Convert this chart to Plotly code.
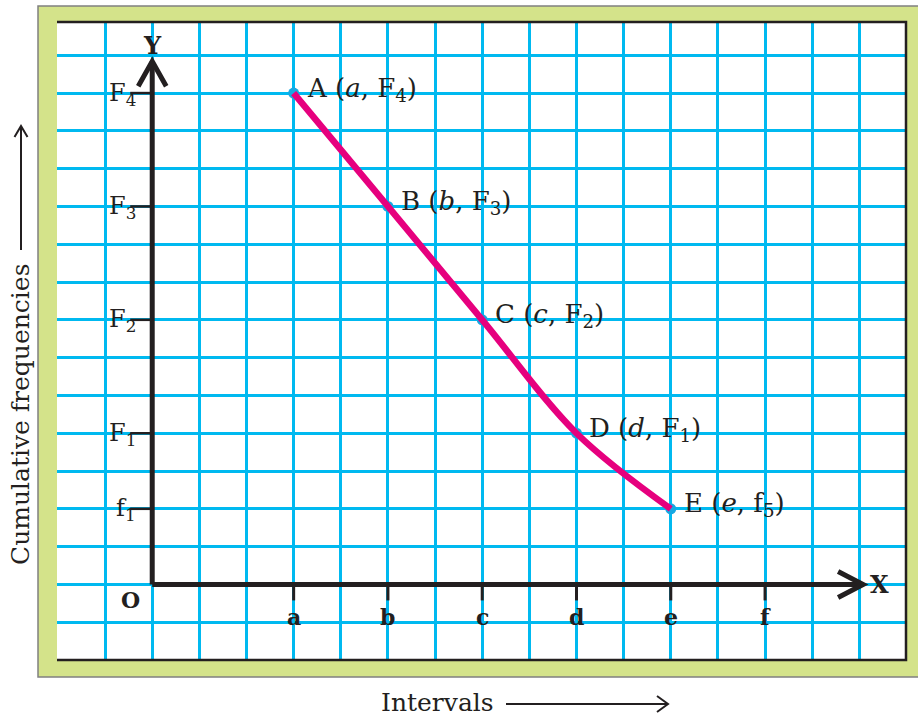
import plotly.graph_objects as go

# ---- data ----
x_tick_labels = ['a', 'b', 'c', 'd', 'e', 'f']
x_tick_pos = [3, 5, 7, 9, 11, 13]
y_tick_labels = ['F<sub>4</sub>', 'F<sub>3</sub>', 'F<sub>2</sub>', 'F<sub>1</sub>', 'f<sub>1</sub>']
y_tick_pos = [13, 10, 7, 4, 2]
point_names = ['A', 'B', 'C', 'D', 'E']
point_x = [3, 5, 7, 9, 11]
point_y = [13, 10, 7, 4, 2]
point_xlab = ['a', 'b', 'c', 'd', 'e']
point_ylab = ['F<sub>4</sub>', 'F<sub>3</sub>', 'F<sub>2</sub>', 'F<sub>1</sub>', 'f<sub>5</sub>']

W, H = 918, 716
L, R, T, B = 57, 906, 22, 660  # plot area in pixels
XR = [-2.02, 15.99]
YR = [-2.0, 14.88]

def px(p):
    return (p - L) / (R - L)

def py(p):
    return (B - p) / (B - T)

GRID = '#00b9f0'
GREEN = '#d4e38a'
MAG = '#e6007e'
DOT = '#17a8e2'
SERIF = 'DejaVu Serif'

fig = go.Figure()

# curve
fig.add_trace(go.Scatter(x=point_x, y=point_y, mode='markers',
                         marker=dict(size=11, color=DOT, line=dict(width=0)),
                         hoverinfo='skip', showlegend=False))
fig.add_trace(go.Scatter(x=point_x, y=point_y, mode='lines',
                         line=dict(color=MAG, width=6.5, shape='spline', smoothing=1.0),
                         hoverinfo='skip', showlegend=False))

shapes = []
# outer green frame
shapes.append(dict(type='rect', xref='paper', yref='paper', x0=px(38), x1=px(925),
                   y0=py(677), y1=py(6), fillcolor=GREEN,
                   line=dict(color='#808080', width=1.5), layer='below'))
# inner white sheet
shapes.append(dict(type='rect', xref='paper', yref='paper', x0=px(L), x1=px(R),
                   y0=py(B), y1=py(T), fillcolor='white', line=dict(width=0), layer='below'))
# inner black border (top, right, bottom)
shapes.append(dict(type='path', xref='paper', yref='paper',
                   path=f'M {px(L)},{py(T)} L {px(R)},{py(T)} L {px(R)},{py(B)} L {px(L)},{py(B)}',
                   line=dict(color='#231f20', width=2.5), layer='above'))

ux = 47.15  # px per x unit
uy = 37.8   # px per y unit
AX = '#231f20'
# y axis with arrow
ytop = 13.84
shapes.append(dict(type='line', x0=0, x1=0, y0=0, y1=ytop, line=dict(color=AX, width=5)))
shapes.append(dict(type='path',
                   path=f'M {-14/ux},{ytop-25/uy} L 0,{ytop} L {14/ux},{ytop-25/uy}',
                   line=dict(color=AX, width=5)))
# x axis with arrow
xend = 15.08
shapes.append(dict(type='line', x0=0, x1=xend, y0=0, y1=0, line=dict(color=AX, width=5)))
shapes.append(dict(type='path',
                   path=f'M {xend-25/ux},{13/uy} L {xend},0 L {xend-25/ux},{-13/uy}',
                   line=dict(color=AX, width=5)))
# ticks
for xv in x_tick_pos:
    shapes.append(dict(type='line', x0=xv, x1=xv, y0=0, y1=-16/uy, line=dict(color=AX, width=3)))
for yv in y_tick_pos:
    shapes.append(dict(type='line', x0=-22/ux, x1=0, y0=yv, y1=yv, line=dict(color=AX, width=2.5)))

# title arrows (paper coords)
def arrow_v(x, y0, y1):
    shapes.append(dict(type='line', xref='paper', yref='paper', x0=px(x), x1=px(x),
                       y0=py(y0), y1=py(y1), line=dict(color=AX, width=2)))
    shapes.append(dict(type='path', xref='paper', yref='paper',
                       path=f'M {px(x-6.5)},{py(y1+11)} L {px(x)},{py(y1)} L {px(x+6.5)},{py(y1+11)}',
                       line=dict(color=AX, width=2)))

def arrow_h(y, x0, x1):
    shapes.append(dict(type='line', xref='paper', yref='paper', x0=px(x0), x1=px(x1),
                       y0=py(y), y1=py(y), line=dict(color=AX, width=2)))
    shapes.append(dict(type='path', xref='paper', yref='paper',
                       path=f'M {px(x1-11)},{py(y-8)} L {px(x1)},{py(y)} L {px(x1-11)},{py(y+8)}',
                       line=dict(color=AX, width=2)))

arrow_v(21, 250, 126)
arrow_h(704, 506, 668)

FS = 25
ann = []
for lab, xv in zip(x_tick_labels, x_tick_pos):
    ann.append(dict(x=xv, y=-33/uy, text=f'<b>{lab}</b>', showarrow=False,
                    font=dict(family=SERIF, size=22, color=AX), xanchor='center', yanchor='middle'))
ann.append(dict(x=-22/ux, y=-16/uy, text='<b>O</b>', showarrow=False,
                font=dict(family=SERIF, size=22, color=AX), xanchor='center', yanchor='middle'))
for lab, yv in zip(y_tick_labels, y_tick_pos):
    ann.append(dict(x=-14/ux, y=yv, text=lab, showarrow=False, yshift=-1,
                    font=dict(family=SERIF, size=24, color=AX), xanchor='right', yanchor='middle'))
for n, xv, yv, xl, yl in zip(point_names, point_x, point_y, point_xlab, point_ylab):
    ann.append(dict(x=xv, y=yv, text=f'{n} (<i>{xl}</i>, {yl})', showarrow=False,
                    xshift=11, yshift=4,
                    font=dict(family=SERIF, size=26, color=AX), xanchor='left', yanchor='middle'))
ann.append(dict(x=0, y=ytop + 16/uy, text='<b>Y</b>', showarrow=False,
                font=dict(family=SERIF, size=24, color=AX), xanchor='center', yanchor='middle'))
ann.append(dict(x=xend + 16/ux, y=0, text='<b>X</b>', showarrow=False,
                font=dict(family=SERIF, size=24, color=AX), xanchor='center', yanchor='middle'))
# axis titles
ann.append(dict(xref='paper', yref='paper', x=px(20), y=py(415), text='Cumulative frequencies',
                textangle=-90, showarrow=False, font=dict(family=SERIF, size=FS, color=AX),
                xanchor='center', yanchor='middle'))
ann.append(dict(xref='paper', yref='paper', x=px(437), y=py(702), text='Intervals',
                showarrow=False, font=dict(family=SERIF, size=FS, color=AX),
                xanchor='center', yanchor='middle'))

fig.update_layout(
    width=W, height=H, autosize=False,
    margin=dict(l=L, r=W - R, t=T, b=H - B, pad=0),
    paper_bgcolor='white', plot_bgcolor='rgba(0,0,0,0)',
    showlegend=False,
    xaxis=dict(range=XR, tick0=0, dtick=1, showgrid=True, gridcolor=GRID, gridwidth=2.5,
               showticklabels=False, zeroline=False, showline=False, ticks='', fixedrange=True),
    yaxis=dict(range=YR, tick0=0, dtick=1, showgrid=True, gridcolor=GRID, gridwidth=2.5,
               showticklabels=False, zeroline=False, showline=False, ticks='', fixedrange=True),
    shapes=shapes, annotations=ann,
)

fig.write_html('out.html', config={'displayModeBar': False},
               post_script="document.body.style.margin='0';document.body.style.padding='0';document.body.style.overflow='hidden';")
